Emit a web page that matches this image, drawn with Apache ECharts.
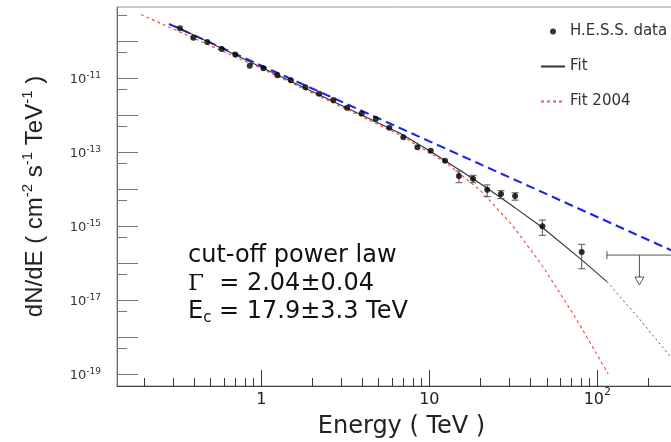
<!DOCTYPE html>
<html>
<head>
<meta charset="utf-8">
<title>H.E.S.S. spectrum</title>
<script src="https://cdn.jsdelivr.net/npm/echarts@6/dist/echarts.min.js"></script>
<style>
  html, body { margin: 0; padding: 0; background: #fff; }
  #main { width: 671px; height: 442px; }
</style>
</head>
<body>
<div id="main"></div>
<script>
// H.E.S.S. data points: energy (TeV) and dN/dE (cm-2 s-1 TeV-1)
var energy = [0.328, 0.394, 0.477, 0.581, 0.700, 0.853, 1.03, 1.245, 1.50, 1.83,
    2.21, 2.68, 3.24, 3.96, 4.80, 5.78, 7.00, 8.49, 10.2, 12.4,
    15.0, 18.2, 22.1, 26.7, 32.4, 47.1, 80.7];
var flux = [2.2e-10, 1.23e-10, 9.4e-11, 6.1e-11, 4.3e-11, 2.15e-11, 1.83e-11, 1.18e-11, 8.7e-12, 5.6e-12,
    3.77e-12, 2.54e-12, 1.58e-12, 1.09e-12, 7.8e-13, 4.55e-13, 2.5e-13, 1.34e-13, 1.08e-13, 5.8e-14,
    2.25e-14, 1.9e-14, 9.6e-15, 7.3e-15, 6.5e-15, 9.8e-16, 1.98e-16];
// error bars (only where visible)
var errLow = [null, null, null, null, null, null, null, null, null, null,
    null, null, null, null, null, null, null, null, null, null,
    1.48e-14, 1.48e-14, 6.2e-15, 5.5e-15, 5.0e-15, 5.6e-16, 7.0e-17];
var errHigh = [null, null, null, null, null, null, null, null, null, null,
    null, null, null, null, null, null, null, null, null, null,
    3.06e-14, 2.34e-14, 1.29e-14, 9.0e-15, 7.9e-15, 1.45e-15, 3.2e-16];

// upper limit
var ulEnergy = [178];
var ulFlux = [1.64e-16];
var ulEnergyLow = [114];
var ulEnergyHigh = [278];
var ulArrowTo = [2.54e-17];

// cut-off power law fit (solid part, then extrapolation)
var fitEnergy = [0.306, 1.0, 2.68, 6.69, 10.2, 18.2, 22.1, 32.4, 47.1, 80.7, 114];
var fitFlux = [2.54e-10, 1.96e-11, 2.32e-12, 3.2e-13, 1.03e-13, 1.9e-14, 1.05e-14, 3.1e-15, 9.1e-16, 1.22e-16, 3.13e-17];
var fitExtEnergy = [114, 180, 282];
var fitExtFlux = [3.13e-17, 2.9e-18, 2.4e-19];

// Fit 2004
var fit04Energy = [0.192, 1.0, 6.69, 12.7, 20.0, 25.3, 31.6, 45.6, 56.8, 72.0, 91.7, 116];
var fit04Flux = [5.2e-10, 1.81e-11, 2.88e-13, 4.95e-14, 9.4e-15, 2.99e-15, 9.7e-16, 1.03e-16, 2.24e-17, 4.13e-18, 6.4e-19, 1.0e-19];

// pure power law (blue dashed)
var plEnergy = [0.282, 282];
var plFlux = [2.88e-10, 2.1e-16];

// axes
var xMin = 0.1384, xMax = 282;
var yMin = 4.74e-20, yMax = 8.3e-10;
var xMajorTicks = [1, 10, 100];
var xMinorTicks = [];
[0.1, 1, 10, 100].forEach(function (d) {
    for (var m = 2; m <= 9; m++) {
        var v = m * d;
        if (v > xMin && v < xMax) xMinorTicks.push(v);
    }
});
var yMajorTicks = [];
var yMinorTicks = [];
for (var e = -20; e <= -9; e++) {
    var p = Math.pow(10, e);
    if (p > yMin && p < yMax) yMajorTicks.push(p);
    if (5 * p > yMin * 1.1 && 5 * p < yMax) yMinorTicks.push(5 * p);
}
var yLabelTicks = [1e-11, 1e-13, 1e-15, 1e-17, 1e-19];

function pairs(xs, ys) {
    return xs.map(function (x, i) { return [x, ys[i]]; });
}

var errData = [];
energy.forEach(function (x, i) {
    if (errLow[i] != null) errData.push([x, errLow[i], errHigh[i]]);
});
var ulData = ulEnergy.map(function (x, i) {
    return [x, ulFlux[i], ulEnergyLow[i], ulEnergyHigh[i], ulArrowTo[i]];
});

function powLabel(v) {
    var e = Math.round(Math.log10(v));
    if (e === 0) return '{b|1}';
    if (e === 1) return '{b|10}';
    return '{b|10}{s|' + e + '}';
}

var font = 'DejaVu Sans';
var chart = echarts.init(document.getElementById('main'));

var option = {
    backgroundColor: '#fff',
    animation: false,
    grid: {
        left: 117, top: 7, right: -2, bottom: 56,
        show: true, borderColor: '#999', borderWidth: 1,
        containLabel: false, outerBoundsMode: 'none'
    },
    legend: {
        left: 535, top: 19, orient: 'vertical',
        itemGap: 20, itemWidth: 24, itemHeight: 6,
        selectedMode: false,
        data: [
            {name: 'H.E.S.S. data', icon: 'circle'},
            {name: 'Fit', itemStyle: {opacity: 0}},
            {name: 'Fit 2004', itemStyle: {opacity: 0}}
        ],
        textStyle: {fontFamily: font, fontSize: 15, color: '#333'}
    },
    xAxis: [{
        type: 'log', min: xMin, max: xMax, position: 'bottom',
        axisLine: {lineStyle: {color: '#444', width: 1}},
        axisTick: {inside: true, length: 16, customValues: xMajorTicks, lineStyle: {color: '#333'}},
        axisLabel: {
            customValues: xMajorTicks, formatter: powLabel, margin: 1, color: '#222',
            rich: {
                b: {fontFamily: font, fontSize: 16, lineHeight: 16, padding: [9, 0, 0, 0], color: '#222'},
                s: {fontFamily: font, fontSize: 11, lineHeight: 11, verticalAlign: 'top', color: '#222'}
            }
        },
        splitLine: {show: false},
        name: 'Energy ( TeV )', nameLocation: 'middle', nameGap: 29,
        nameTextStyle: {fontFamily: font, fontSize: 24, color: '#222', padding: [0, 0, 0, 13]}
    }, {
        type: 'log', min: xMin, max: xMax, position: 'bottom',
        axisLine: {show: false},
        axisTick: {inside: true, length: 8, customValues: xMinorTicks, lineStyle: {color: '#333'}},
        axisLabel: {show: false},
        splitLine: {show: false}
    }],
    yAxis: [{
        type: 'log', min: yMin, max: yMax, position: 'left',
        axisLine: {show: true, lineStyle: {color: '#666', width: 1}},
        axisTick: {show: true, inside: true, length: 21, customValues: yMajorTicks, lineStyle: {color: '#777'}},
        axisLabel: {
            customValues: yLabelTicks, formatter: powLabel, margin: 16, color: '#333',
            rich: {
                b: {fontFamily: font, fontSize: 13, lineHeight: 13, padding: [4, 0, 0, 0], color: '#333'},
                s: {fontFamily: font, fontSize: 9, lineHeight: 9, verticalAlign: 'top', color: '#333'}
            }
        },
        splitLine: {show: false},
        name: 'dN/dE ( cm{s|-2} s{s|-1} TeV{s|-1} )',
        nameLocation: 'middle', nameGap: 67, nameRotate: 90,
        nameTextStyle: {
            fontFamily: 'Liberation Sans', fontSize: 24, lineHeight: 30, color: '#222',
            rich: {s: {fontFamily: 'Liberation Sans', fontSize: 15, lineHeight: 10, verticalAlign: 'top', color: '#222'}}
        }
    }, {
        type: 'log', min: yMin, max: yMax, position: 'left',
        axisLine: {show: false},
        axisTick: {show: true, inside: true, length: 10, customValues: yMinorTicks, lineStyle: {color: '#777'}},
        axisLabel: {show: false},
        splitLine: {show: false}
    }],
    graphic: [{
        type: 'text', left: 188, top: 242, z: 10,
        style: {
            text: 'cut-off power law\n{g|Γ}  = 2.04±0.04\nE{sub|c} = 17.9±3.3 TeV',
            fontFamily: font, fontSize: 24, lineHeight: 28, fill: '#111',
            rich: {
                g: {fontFamily: 'DejaVu Serif', fontSize: 23},
                sub: {fontFamily: font, fontSize: 15, lineHeight: 16, verticalAlign: 'bottom'}
            }
        }
    }],
    series: [{
        name: 'Power law', type: 'line', data: pairs(plEnergy, plFlux),
        symbol: 'none', z: 2,
        lineStyle: {color: '#1c22f0', width: 2, type: [9, 5]}
    }, {
        name: 'Fit 2004', type: 'line', data: pairs(fit04Energy, fit04Flux),
        symbol: 'none', z: 3,
        itemStyle: {color: '#ff4d4d'},
        lineStyle: {color: '#ff4d4d', width: 1.2, type: [3, 3]}
    }, {
        name: 'Fit', type: 'line', data: pairs(fitEnergy, fitFlux),
        symbol: 'none', z: 4,
        itemStyle: {color: '#333'},
        lineStyle: {color: '#333', width: 1.1}
    }, {
        name: 'Fit extrapolation', type: 'line', data: pairs(fitExtEnergy, fitExtFlux),
        symbol: 'none', z: 4,
        lineStyle: {color: '#555', width: 1, type: [2, 3]}
    }, {
        name: 'errors', type: 'custom', data: errData, z: 5,
        encode: {x: 0, y: [1, 2]},
        renderItem: function (params, api) {
            var hi = api.coord([api.value(0), api.value(2)]);
            var lo = api.coord([api.value(0), api.value(1)]);
            var w = 3.5;
            var st = {stroke: '#555', lineWidth: 1};
            return {
                type: 'group',
                children: [
                    {type: 'line', shape: {x1: hi[0], y1: hi[1], x2: lo[0], y2: lo[1]}, style: st},
                    {type: 'line', shape: {x1: hi[0] - w, y1: hi[1], x2: hi[0] + w, y2: hi[1]}, style: st},
                    {type: 'line', shape: {x1: lo[0] - w, y1: lo[1], x2: lo[0] + w, y2: lo[1]}, style: st}
                ]
            };
        }
    }, {
        name: 'H.E.S.S. data', type: 'scatter', data: pairs(energy, flux),
        symbol: 'circle', symbolSize: 6, z: 6,
        itemStyle: {color: '#000'}
    }, {
        name: 'upper limit', type: 'custom', data: ulData, z: 5,
        encode: {x: [0, 2, 3], y: [1, 4]},
        renderItem: function (params, api) {
            var c = api.coord([api.value(0), api.value(1)]);
            var l = api.coord([api.value(2), api.value(1)]);
            var r = api.coord([api.value(3), api.value(1)]);
            var tip = api.coord([api.value(0), api.value(4)]);
            var st = {stroke: '#555', lineWidth: 1};
            var head = 8;
            return {
                type: 'group',
                children: [
                    {type: 'line', shape: {x1: l[0], y1: l[1], x2: r[0], y2: r[1]}, style: st},
                    {type: 'line', shape: {x1: l[0], y1: l[1] - 4, x2: l[0], y2: l[1] + 4}, style: st},
                    {type: 'line', shape: {x1: c[0], y1: c[1], x2: tip[0], y2: tip[1] - head}, style: st},
                    {type: 'polygon', shape: {points: [[tip[0] - 4.5, tip[1] - head], [tip[0] + 4.5, tip[1] - head], [tip[0], tip[1]]]},
                        style: {fill: '#fff', stroke: '#555', lineWidth: 1}}
                ]
            };
        }
    }]
};
chart.setOption(option);
</script>
</body>
</html>
